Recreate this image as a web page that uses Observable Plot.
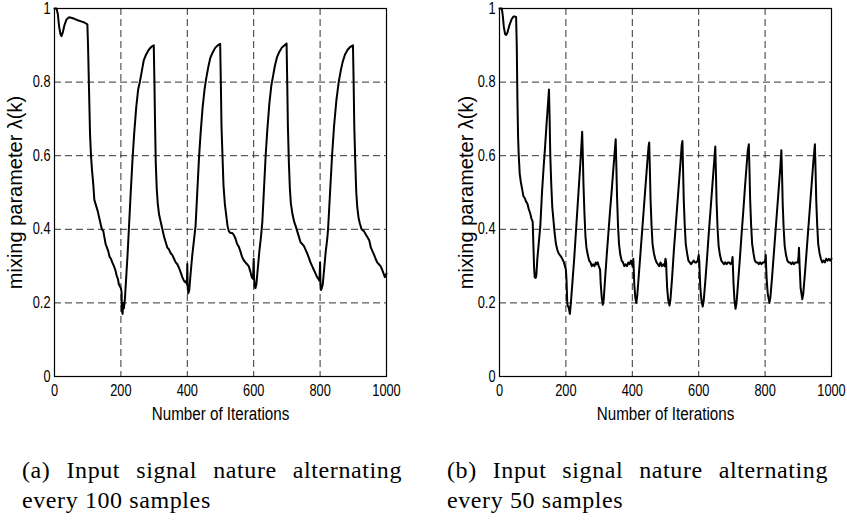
<!DOCTYPE html>
<html>
<head>
<meta charset="utf-8">
<script src="https://cdn.jsdelivr.net/npm/d3@7"></script>
<script src="https://cdn.jsdelivr.net/npm/@observablehq/plot@0.6"></script>
<style>
  html, body { margin: 0; padding: 0; background: #fff; }
  #root { position: relative; width: 847px; height: 525px; background: #fff; overflow: hidden; }
  .panel { position: absolute; top: 0; }
  .cap { position: absolute; top: 455px; font-family: "Liberation Serif", "DejaVu Serif", serif; font-size: 24px; letter-spacing: 0.6px; line-height: 30px; color: #000; }
  .cap .l1 { text-align: justify; text-align-last: justify; }
</style>
</head>
<body>
<div id="root">
  <div class="panel" id="pa" style="left:0px"></div>
  <div class="panel" id="pb" style="left:445px"></div>
  <div class="cap" style="left:22px; width:380px"><div class="l1">(a) Input signal nature alternating</div><div>every 100 samples</div></div>
  <div class="cap" style="left:447px; width:381px"><div class="l1">(b) Input signal nature alternating</div><div>every 50 samples</div></div>
</div>
<script>
// Tick values and labels
const xTicks = [0, 200, 400, 600, 800, 1000];
const yTicks = [0, 0.2, 0.4, 0.6, 0.8, 1];
const xGrid = [200, 400, 600, 800];
const yGrid = [0.2, 0.4, 0.6, 0.8];
const xLabel = "Number of Iterations";
const yLabel = "mixing parameter \u03bb(k)";

// (a) alternating every 100 samples
const iterA = [
  0,6,10,14,18,21,25,30,36,44,50,60,70,80,90,99,
  101,104,107,110,113,117,120,125,130,135,140,143,147,150,154,158,162,166,170,174,179,183,187,191,194,197,200,
  202,203,205,207,209,212,216,220,224,229,235,240,246,252,257,263,269,276,284,292,299,
  301,303,305,308,311,315,320,325,330,335,340,345,350,355,360,365,370,375,380,385,390,394,397,399,
  400,401,403,406,410,415,420,425,430,435,440,446,452,457,463,469,476,484,492,499,
  501,503,506,509,513,517,521,525,530,535,540,545,550,555,560,565,570,575,580,585,590,594,598,
  600,601,603,605,608,612,617,622,626,631,636,641,647,653,658,664,670,677,685,693,699,
  701,703,706,709,712,717,722,726,731,736,741,746,751,756,761,766,771,776,781,786,791,795,798,
  800,801,803,805,808,812,817,821,824,830,836,842,849,856,862,868,875,883,891,899,
  901,903,906,909,912,916,920,925,932,938,943,948,953,958,963,967,972,977,982,987,991,995,998,1000
];
const lambdaA = [
  1.0,1.0,0.985,0.95,0.93,0.925,0.935,0.955,0.97,0.976,0.975,0.972,0.968,0.965,0.962,0.957,
  0.90,0.78,0.66,0.60,0.56,0.52,0.48,0.465,0.45,0.43,0.41,0.40,0.395,0.38,0.36,0.35,0.34,0.325,0.32,0.31,0.30,0.29,0.275,0.265,0.25,0.245,0.24,
  0.23,0.18,0.17,0.20,0.185,0.21,0.27,0.33,0.40,0.49,0.59,0.66,0.73,0.78,0.80,0.83,0.86,0.875,0.888,0.896,0.90,
  0.80,0.68,0.58,0.51,0.47,0.44,0.42,0.40,0.38,0.365,0.35,0.345,0.335,0.33,0.32,0.31,0.305,0.295,0.283,0.27,0.26,0.256,0.26,0.25,
  0.306,0.25,0.226,0.235,0.28,0.33,0.37,0.41,0.50,0.59,0.66,0.73,0.78,0.81,0.84,0.865,0.88,0.893,0.90,0.904,
  0.80,0.68,0.60,0.52,0.47,0.44,0.41,0.395,0.39,0.39,0.385,0.375,0.36,0.353,0.34,0.325,0.316,0.31,0.305,0.30,0.285,0.27,0.265,
  0.32,0.27,0.245,0.24,0.25,0.29,0.34,0.38,0.42,0.51,0.60,0.67,0.74,0.79,0.815,0.845,0.867,0.882,0.894,0.90,0.905,
  0.80,0.68,0.58,0.51,0.47,0.44,0.42,0.41,0.395,0.38,0.365,0.36,0.355,0.345,0.335,0.323,0.31,0.30,0.29,0.28,0.27,0.265,0.26,
  0.31,0.255,0.235,0.24,0.25,0.29,0.34,0.37,0.40,0.50,0.60,0.68,0.75,0.80,0.83,0.855,0.875,0.888,0.896,0.90,
  0.80,0.68,0.58,0.50,0.46,0.43,0.415,0.40,0.395,0.385,0.378,0.37,0.35,0.34,0.33,0.32,0.31,0.305,0.30,0.29,0.28,0.27,0.275,0.28
];

// (b) alternating every 50 samples
const iterB = [
  0,7,10,13,17,20,24,30,36,42,47,50,
  52,54,56,58,61,64,68,72,76,80,84,88,92,96,100,
  102,104,106,109,111,114,118,123,128,133,137,142,146,149,
  151,153,156,159,162,166,170,174,178,182,186,190,194,197,200,
  202,204,206,208,210,212,215,220,225,230,235,240,245,249,
  251,253,256,259,262,266,270,274,278,282,286,290,293,296,299,
  301,303,305,308,311,314,318,323,328,333,338,343,347,350,
  352,354,357,360,364,368,372,376,380,384,388,392,396,399,
  401,403,404,406,409,412,415,420,425,430,435,440,445,449,451,
  453,455,458,461,465,469,473,477,481,485,489,493,497,500,
  502,503,505,508,512,515,520,525,530,535,540,545,549,551,
  553,555,558,561,565,569,573,577,581,585,589,593,597,600,
  602,603,605,608,612,615,620,625,630,635,640,645,650,
  652,654,657,660,664,668,672,676,680,684,688,692,696,700,
  702,703,705,708,711,714,719,724,729,734,739,744,748,751,
  753,755,758,761,765,769,773,777,781,785,789,793,797,800,
  802,803,805,808,813,816,821,826,831,836,841,846,849,
  851,853,856,859,863,867,871,875,879,883,887,891,895,899,
  901,902,904,907,912,915,920,925,930,935,940,945,950,
  952,954,957,960,964,968,972,976,980,984,988,992,996,1000
];
const lambdaB = [
  1.0,1.0,0.98,0.95,0.93,0.928,0.935,0.955,0.97,0.978,0.978,0.977,
  0.90,0.75,0.65,0.60,0.55,0.53,0.51,0.49,0.485,0.475,0.47,0.455,0.445,0.43,0.42,
  0.36,0.30,0.27,0.268,0.275,0.32,0.36,0.41,0.50,0.57,0.62,0.69,0.74,0.78,
  0.70,0.60,0.52,0.46,0.43,0.39,0.36,0.345,0.335,0.33,0.325,0.318,0.31,0.30,0.29,
  0.26,0.20,0.19,0.19,0.18,0.17,0.20,0.26,0.32,0.39,0.46,0.53,0.60,0.665,
  0.60,0.52,0.44,0.38,0.35,0.33,0.315,0.31,0.30,0.305,0.30,0.31,0.305,0.31,0.30,
  0.295,0.29,0.25,0.215,0.195,0.21,0.265,0.33,0.39,0.45,0.505,0.565,0.61,0.645,
  0.57,0.49,0.41,0.36,0.33,0.315,0.31,0.30,0.305,0.30,0.31,0.305,0.315,0.305,
  0.30,0.32,0.30,0.25,0.215,0.20,0.22,0.28,0.34,0.40,0.46,0.52,0.58,0.625,0.636,
  0.56,0.48,0.41,0.36,0.335,0.32,0.31,0.305,0.30,0.31,0.30,0.305,0.30,0.32,
  0.31,0.28,0.24,0.21,0.193,0.21,0.27,0.34,0.40,0.46,0.52,0.58,0.63,0.64,
  0.56,0.48,0.41,0.36,0.335,0.315,0.31,0.305,0.31,0.315,0.31,0.31,0.315,0.33,
  0.31,0.28,0.24,0.21,0.19,0.205,0.26,0.32,0.385,0.445,0.505,0.565,0.625,
  0.55,0.47,0.40,0.355,0.33,0.315,0.31,0.305,0.31,0.305,0.31,0.31,0.305,0.31,
  0.325,0.30,0.25,0.205,0.184,0.20,0.26,0.32,0.385,0.445,0.51,0.57,0.615,0.631,
  0.56,0.48,0.41,0.36,0.335,0.315,0.31,0.31,0.305,0.31,0.305,0.31,0.31,0.315,
  0.33,0.30,0.26,0.225,0.20,0.215,0.27,0.33,0.39,0.45,0.51,0.57,0.615,
  0.55,0.47,0.40,0.355,0.33,0.315,0.31,0.31,0.305,0.31,0.305,0.31,0.31,0.31,
  0.33,0.35,0.30,0.24,0.21,0.225,0.28,0.34,0.40,0.46,0.52,0.58,0.631,
  0.56,0.48,0.41,0.36,0.335,0.32,0.31,0.315,0.31,0.32,0.315,0.32,0.315,0.32
];

const sansFont = "'Liberation Sans', Arial, sans-serif";
const tickLabelSet = new Set([...xTicks, ...yTicks].map(String));

// horizontally condense a text element about its anchor (the reference uses a narrow face)
function condenseText(t, sx) {
  const x = parseFloat(t.getAttribute("x") || 0);
  const tr = t.getAttribute("transform") || "";
  t.setAttribute("transform", `${tr} translate(${x},0) scale(${sx},1) translate(${-x},0)`);
}

function panel(iters, lambdas, width, marginRight, yLabelDx) {
  const data = iters.map((k, i) => ({k, v: lambdas[i]}));
  const svg = Plot.plot({
    width, height: 420,
    marginLeft: 54, marginRight, marginTop: 8, marginBottom: 44,
    style: {fontFamily: sansFont, fontSize: "16px", color: "#000", background: "#fff", overflow: "visible"},
    x: {domain: [0, 1000]},
    y: {domain: [0, 1]},
    marks: [
      Plot.ruleX(xGrid, {x: d => d, stroke: "#333", strokeWidth: 1, strokeDasharray: "7,4"}),
      Plot.ruleY(yGrid, {y: d => d, stroke: "#333", strokeWidth: 1, strokeDasharray: "7,4"}),
      Plot.axisX({ticks: xTicks, tickSize: 0, tickPadding: 8, label: null, tickFormat: d => String(d), fontSize: 16}),
      Plot.axisY({ticks: yTicks, tickSize: 0, tickPadding: 4, label: null, tickFormat: d => String(d), fontSize: 16}),
      Plot.line(data, {x: "k", y: "v", stroke: "#000", strokeWidth: 2, strokeLinejoin: "round"}),
      Plot.frame({stroke: "#000", strokeWidth: 1.2}),
      Plot.text([yLabel], {text: d => d, frameAnchor: "left", dx: yLabelDx, rotate: -90, textAnchor: "middle", lineAnchor: "middle", fontSize: 20, fontFamily: sansFont, fill: "#000"}),
      Plot.text([xLabel], {text: d => d, frameAnchor: "bottom", dy: 37, textAnchor: "middle", lineAnchor: "middle", fontSize: 19, fill: "#000"})
    ]
  });
  svg.querySelectorAll("text").forEach(t => {
    const s = t.textContent.trim();
    if (s === xLabel || tickLabelSet.has(s)) condenseText(t, 0.8);
  });
  return svg;
}

document.getElementById("pa").appendChild(panel(iterA, lambdaA, 423, 37, -39));
document.getElementById("pb").appendChild(panel(iterB, lambdaB, 402, 16, -33));
</script>
</body>
</html>
